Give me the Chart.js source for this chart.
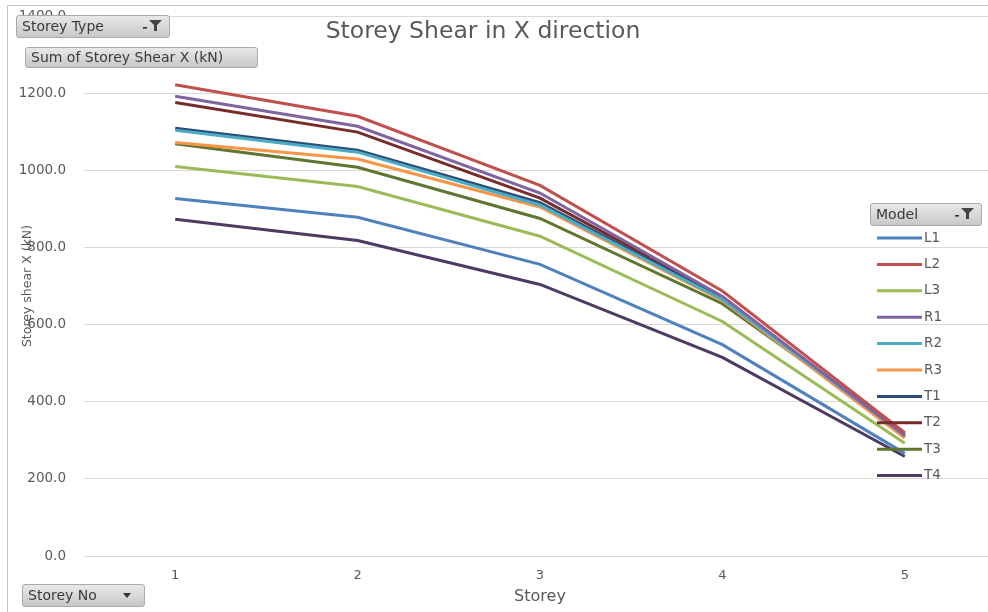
<!DOCTYPE html>
<html>
<head>
<meta charset="utf-8">
<script src="https://cdn.jsdelivr.net/npm/chart.js@4"></script>
<style>
  html, body { margin: 0; padding: 0; background: #fff; }
  #wrap { position: relative; width: 988px; height: 612px; overflow: hidden; font-family: "DejaVu Sans", sans-serif; }
  #frame { position: absolute; left: 7px; top: 5px; width: 990px; height: 620px; border-left: 1px solid #c6c6c6; border-top: 1px solid #c6c6c6; }
  #cv { position: absolute; left: 0; top: 0; }
  .btn { position: absolute; box-sizing: border-box; border: 1px solid #aaa; border-radius: 3px;
         background: linear-gradient(#e8e8e8, #c8c8c8); color: #3a3a3a; font-size: 14px;
         line-height: 21px; padding-left: 5px; white-space: nowrap; }
  .btn svg { position: absolute; right: 5px; top: 3px; }
</style>
</head>
<body>
<div id="wrap">
  <canvas id="cv" width="1000" height="612" style="width:1000px;height:612px"></canvas>
  <div id="frame"></div>
  <div class="btn" style="left:16px;top:15px;width:154px;height:23px;">Storey Type
    <svg width="22" height="14" viewBox="0 0 22 14"><rect x="1" y="8" width="4" height="1.6" fill="#333"/><polygon points="7,1 20,1 15,6 15,12 12,12 12,6" fill="#444"/></svg></div>
  <div class="btn" style="left:25px;top:47px;width:233px;height:21px;line-height:19px;">Sum of Storey Shear X (kN)</div>
  <div class="btn" style="left:22px;top:584px;width:123px;height:23px;">Storey No
    <svg width="14" height="14" viewBox="0 0 14 14" style="right:9px;top:4px"><polygon points="2,4 10,4 6,9" fill="#333"/></svg></div>
  <div class="btn" style="left:870px;top:203px;width:112px;height:23px;">Model
    <svg width="22" height="14" viewBox="0 0 22 14"><rect x="1" y="8" width="4" height="1.6" fill="#333"/><polygon points="7,1 20,1 15,6 15,12 12,12 12,6" fill="#444"/></svg></div>
</div>
<script>
// Storey numbers along the x axis
const storeys = ['1', '2', '3', '4', '5'];
// Model names and line colours
const models = ['L1', 'L2', 'L3', 'R1', 'R2', 'R3', 'T1', 'T2', 'T3', 'T4'];
const colours = ['#4F81BD', '#C0504D', '#9BBB59', '#8064A2', '#4BACC6', '#F79646',
                 '#2C4D75', '#772C2A', '#5F7530', '#4D3B62'];
// Storey shear X (kN) per model, storeys 1..5
const L1 = [927, 878, 756, 548, 266];
const L2 = [1222, 1140, 961, 687, 320];
const L3 = [1010, 958, 829, 608, 292];
const R1 = [1192, 1114, 941, 673, 312];
const R2 = [1104, 1047, 910, 665, 313];
const R3 = [1072, 1029, 905, 662, 306];
const T1 = [1109, 1052, 916, 668, 316];
const T2 = [1176, 1099, 928, 672, 309];
const T3 = [1069, 1008, 875, 654, 318];
const T4 = [873, 818, 704, 515, 258];
const seriesValues = [L1, L2, L3, R1, R2, R3, T1, T2, T3, T4];

const FONT = '"DejaVu Sans", sans-serif';
const GREY = '#595959';

// Chart title drawn over the plot area
const titlePlugin = {
  id: 'overTitle',
  afterDraw(chart) {
    const ctx = chart.ctx;
    ctx.save();
    ctx.font = '23.5px ' + FONT;
    ctx.fillStyle = GREY;
    ctx.textAlign = 'center';
    ctx.textBaseline = 'middle';
    ctx.fillText('Storey Shear in X direction', 483, 32);
    ctx.restore();
  }
};

// Series key listed down the right side of the plot
const keyPlugin = {
  id: 'sideKey',
  afterDraw(chart) {
    const ctx = chart.ctx;
    ctx.save();
    ctx.font = '13.5px ' + FONT;
    ctx.textBaseline = 'middle';
    ctx.lineWidth = 3;
    chart.data.datasets.forEach((ds, i) => {
      const y = 238 + i * 26.4;
      ctx.strokeStyle = ds.borderColor;
      ctx.beginPath();
      ctx.moveTo(877, y);
      ctx.lineTo(922, y);
      ctx.stroke();
      ctx.fillStyle = GREY;
      ctx.fillText(ds.label, 924, y);
    });
    ctx.restore();
  }
};

new Chart(document.getElementById('cv'), {
  type: 'line',
  data: {
    labels: storeys,
    datasets: models.map((m, i) => ({
      label: m,
      data: seriesValues[i],
      borderColor: colours[i],
      backgroundColor: colours[i],
      borderWidth: 3,
      pointRadius: 0,
      tension: 0,
      fill: false
    }))
  },
  options: {
    responsive: false,
    animation: false,
    layout: { padding: { top: 16, right: 4, left: 0, bottom: 0 } },
    plugins: { legend: { display: false }, title: { display: false }, tooltip: { enabled: false } },
    scales: {
      x: {
        offset: true,
        grid: { display: false, drawTicks: false },
        border: { display: false },
        ticks: { color: GREY, font: { family: FONT, size: 13 }, padding: 12 },
        title: { display: true, text: 'Storey', color: GREY, font: { family: FONT, size: 16 }, padding: { bottom: 6, top: 0 } },
        afterFit(scale) { scale.height = 56; scale.paddingLeft = 0; scale.paddingRight = 0; }
      },
      y: {
        min: 0,
        max: 1400,
        ticks: {
          stepSize: 200,
          color: GREY,
          font: { family: FONT, size: 13.5 },
          padding: 18,
          callback: v => Number(v).toFixed(1)
        },
        grid: { color: '#d9d9d9', lineWidth: 1, drawTicks: false },
        border: { display: false },
        title: { display: true, text: 'Storey shear X (kN)', color: GREY, font: { family: FONT, size: 12.5 }, padding: { top: 20, bottom: 0 } },
        afterFit(scale) { scale.width = 84; scale.paddingTop = 0; scale.paddingBottom = 0; }
      }
    }
  },
  plugins: [titlePlugin, keyPlugin]
});
</script>
</body>
</html>
